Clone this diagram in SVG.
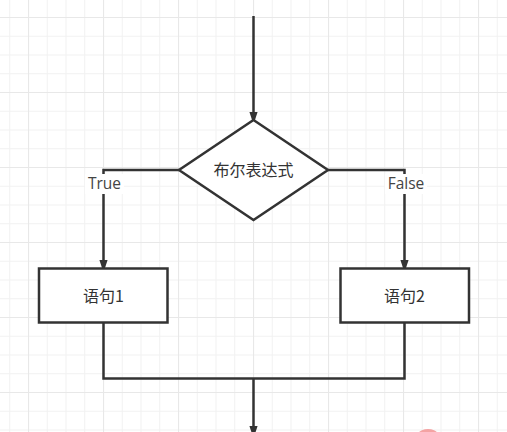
<svg xmlns="http://www.w3.org/2000/svg" width="507" height="432" viewBox="0 0 507 432">
<defs>
<pattern id="minor" x="28" y="17" width="18.75" height="18.75" patternUnits="userSpaceOnUse">
<path d="M0 0.5H18.75M0.5 0V18.75" fill="none" stroke="#f1f1f1" stroke-width="1"/>
</pattern>
<pattern id="major" x="28" y="17" width="75" height="75" patternUnits="userSpaceOnUse">
<path d="M0 0.5H75M0.5 0V75" fill="none" stroke="#e8e8e8" stroke-width="1.2"/>
</pattern>
<marker id="arr" markerWidth="13" markerHeight="20" refX="13" refY="6.5" orient="auto" markerUnits="userSpaceOnUse" viewBox="0 0 20 13">
<path d="M0 0L20 6.5L0 13Z" fill="#333"/>
</marker>
</defs>
<style>
.ln{fill:none;stroke:#333;stroke-width:2.5}
.nd{fill:#fff;stroke:#333;stroke-width:2.5}
.tx{font-family:"Noto Sans CJK SC","Noto Sans",sans-serif;font-size:16px;fill:#333;text-anchor:middle}
.lb{font-family:"Open Sans","Liberation Sans",sans-serif;font-size:15.5px;fill:#444;text-anchor:middle}
</style>
<rect width="507" height="432" fill="#fff"/>
<rect width="507" height="432" fill="url(#minor)"/>
<rect width="507" height="432" fill="url(#major)"/>
<ellipse cx="428" cy="447" rx="16" ry="18" fill="#f4a3a3"/>
<g id="connectors">
<path class="ln" d="M253.5 16V120" marker-end="url(#arr)"/>
<path class="ln" d="M179 170H103.5V268" marker-end="url(#arr)"/>
<path class="ln" d="M328 170H404.5V268" marker-end="url(#arr)"/>
<path class="ln" d="M103.5 322V378.5H404.5V322"/>
<path class="ln" d="M253.5 378.5V434" marker-end="url(#arr)"/>
<rect x="85" y="174" width="39" height="20" fill="#fff"/>
<text class="lb" x="104.5" y="188.5">True</text>
<rect x="385" y="174" width="42" height="20" fill="#fff"/>
<text class="lb" x="406" y="188.5">False</text>
</g>
<g id="cond">
<path class="nd" d="M253.5 120L328 170L253.5 220L179 170Z"/>
<text class="tx" x="253.5" y="176">布尔表达式</text>
</g>
<g id="stmt1">
<rect class="nd" x="39" y="268.5" width="128.5" height="54"/>
<text class="tx" x="103.5" y="301.5">语句1</text>
</g>
<g id="stmt2">
<rect class="nd" x="340.5" y="268.5" width="128.5" height="54"/>
<text class="tx" x="404.5" y="301.5">语句2</text>
</g>
</svg>
